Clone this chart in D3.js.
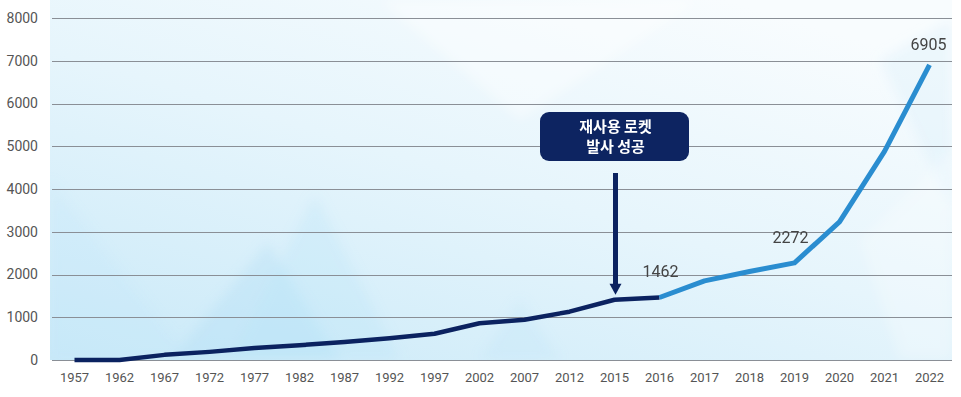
<!DOCTYPE html>
<html><head><meta charset="utf-8">
<script src="https://cdn.jsdelivr.net/npm/d3@7"></script>
<style>
html,body{margin:0;padding:0;background:#fff;}
svg{display:block;}
</style></head>
<body>
<svg id="chart" width="961" height="397"></svg>
<script>
const years = ["1957","1962","1967","1972","1977","1982","1987","1992","1997","2002","2007","2012","2015","2016","2017","2018","2019","2020","2021","2022"];
const launches = [0, 0, 120, 190, 280, 345, 420, 510, 615, 860, 940, 1130, 1410, 1462, 1850, 2070, 2272, 3230, 4880, 6905];
const yTicks = [0,1000,2000,3000,4000,5000,6000,7000,8000];
const labeledYears = ["2016","2019","2022"];
const splitYear = "2016";
const noteLines = ["재사용 로켓","발사 성공"];
const noteYear = "2015";

const W = 961, H = 397;
const m = {left: 52, right: 9, top: 18, bottom: 37};
const svg = d3.select("#chart");

const x = d3.scaleBand().domain(years).range([m.left, W - m.right]).paddingInner(0).paddingOuter(0);
const y = d3.scaleLinear().domain([0, 8000]).range([H - m.bottom, m.top]);
const cx = d => x(d) + x.bandwidth()/2;

// background
const defs = svg.append("defs");
const g1 = defs.append("linearGradient").attr("id","bg").attr("x1","0").attr("y1","1").attr("x2","0.75").attr("y2","0");
g1.append("stop").attr("offset","0").attr("stop-color","#c9e9f8");
g1.append("stop").attr("offset","0.55").attr("stop-color","#e6f5fc");
g1.append("stop").attr("offset","1").attr("stop-color","#f8fcfe");
const blur = defs.append("filter").attr("id","soft").attr("x","-20%").attr("y","-20%").attr("width","140%").attr("height","140%");
blur.append("feGaussianBlur").attr("stdDeviation",6);
const bgX0 = 50, bgX1 = x.range()[1], bgY0 = 0, bgY1 = y(0);
svg.append("rect").attr("x",bgX0).attr("y",bgY0).attr("width",bgX1-bgX0).attr("height",bgY1-bgY0).attr("fill","url(#bg)");
const clip = defs.append("clipPath").attr("id","bgclip");
clip.append("rect").attr("x",bgX0).attr("y",bgY0).attr("width",bgX1-bgX0).attr("height",bgY1-bgY0);
const polys = [
  {p:[[170,360],[268,243],[340,360]], c:"#a8dcf5", o:0.3},
  {p:[[230,360],[315,195],[400,360]], c:"#b5e2f7", o:0.25},
  {p:[[50,360],[50,180],[190,360]], c:"#bfe5f8", o:0.2},
  {p:[[480,360],[520,300],[560,360]], c:"#bde4f7", o:0.25},
  {p:[[380,0],[700,0],[520,120]], c:"#ffffff", o:0.4},
  {p:[[880,60],[952,20],[952,210]], c:"#d8effa", o:0.35},
  {p:[[860,240],[952,150],[952,360],[900,360]], c:"#ffffff", o:0.25}
];
const pg = svg.append("g").attr("clip-path","url(#bgclip)").append("g").attr("filter","url(#soft)");
pg.selectAll("polygon").data(polys).join("polygon")
  .attr("points", d => d.p.map(q => q.join(",")).join(" "))
  .attr("fill", d => d.c).attr("opacity", d => d.o);

// gridlines
svg.append("g").selectAll("line").data(yTicks).join("line")
  .attr("x1", m.left).attr("x2", W - m.right)
  .attr("y1", d => Math.round(y(d))+0.5).attr("y2", d => Math.round(y(d))+0.5)
  .attr("stroke","#8a8f96").attr("stroke-width",1);

// y axis labels
const yAxis = d3.axisLeft(y).tickValues(yTicks).tickSize(0).tickPadding(0).tickFormat(d3.format("d"));
const ya = svg.append("g").attr("transform",`translate(${38},0)`).call(yAxis);
ya.select(".domain").remove();
ya.selectAll("text").attr("font-family","Roboto, sans-serif").attr("font-size",14).attr("fill","#555");

// x axis labels
const xAxis = d3.axisBottom(x).tickSize(0).tickPadding(0);
const xa = svg.append("g").attr("transform",`translate(0,${H - m.bottom + 13})`).call(xAxis);
xa.select(".domain").remove();
xa.selectAll("text").attr("font-family","Roboto, sans-serif").attr("font-size",13).attr("fill","#555");

// lines
const pts = years.map((yr,i) => ({yr, v: launches[i]}));
const si = years.indexOf(splitYear);
const line = d3.line().x(d => cx(d.yr)).y(d => y(d.v));
svg.append("path").datum(pts.slice(0, si+1)).attr("d", line)
  .attr("fill","none").attr("stroke","#0b2260").attr("stroke-width",4.5).attr("stroke-linejoin","round");
svg.append("path").datum(pts.slice(si)).attr("d", line)
  .attr("fill","none").attr("stroke","#2a8dd0").attr("stroke-width",5).attr("stroke-linejoin","round");

// data labels
const labelOff = {"2016": [1, -20], "2019": [-4, -20], "2022": [-1, -14.5]};
svg.append("g").selectAll("text").data(pts.filter(d => labeledYears.includes(d.yr))).join("text")
  .attr("x", d => cx(d.yr) + labelOff[d.yr][0])
  .attr("y", d => y(d.v) + labelOff[d.yr][1])
  .attr("text-anchor","middle")
  .attr("font-family","Roboto, sans-serif").attr("font-size",16).attr("fill","#444")
  .text(d => d3.format("d")(d.v));

// annotation
const ax = cx(noteYear) + 1;
const boxW = 149, boxH = 49, boxY = 112;
svg.append("rect").attr("x", ax - boxW/2 - 1).attr("y", boxY).attr("width", boxW).attr("height", boxH)
  .attr("rx",9).attr("fill","#0d2461");
svg.append("text").attr("x", ax).attr("y", boxY + 20).attr("text-anchor","middle")
  .attr("font-family","'Noto Sans CJK KR', sans-serif").attr("font-size",15).attr("font-weight","bold").attr("fill","#fff")
  .selectAll("tspan").data(noteLines).join("tspan")
  .attr("x", ax).attr("dy", (d,i) => i === 0 ? 0 : 20).text(d => d);
const tipY = y(launches[years.indexOf(noteYear)]) - 5;
svg.append("line").attr("x1", ax).attr("x2", ax).attr("y1", 173).attr("y2", tipY - 8)
  .attr("stroke","#0b2260").attr("stroke-width",5);
svg.append("path").attr("d", `M${ax-6},${tipY-11} L${ax+6},${tipY-11} L${ax},${tipY} Z`).attr("fill","#0b2260");
</script>
</body></html>
